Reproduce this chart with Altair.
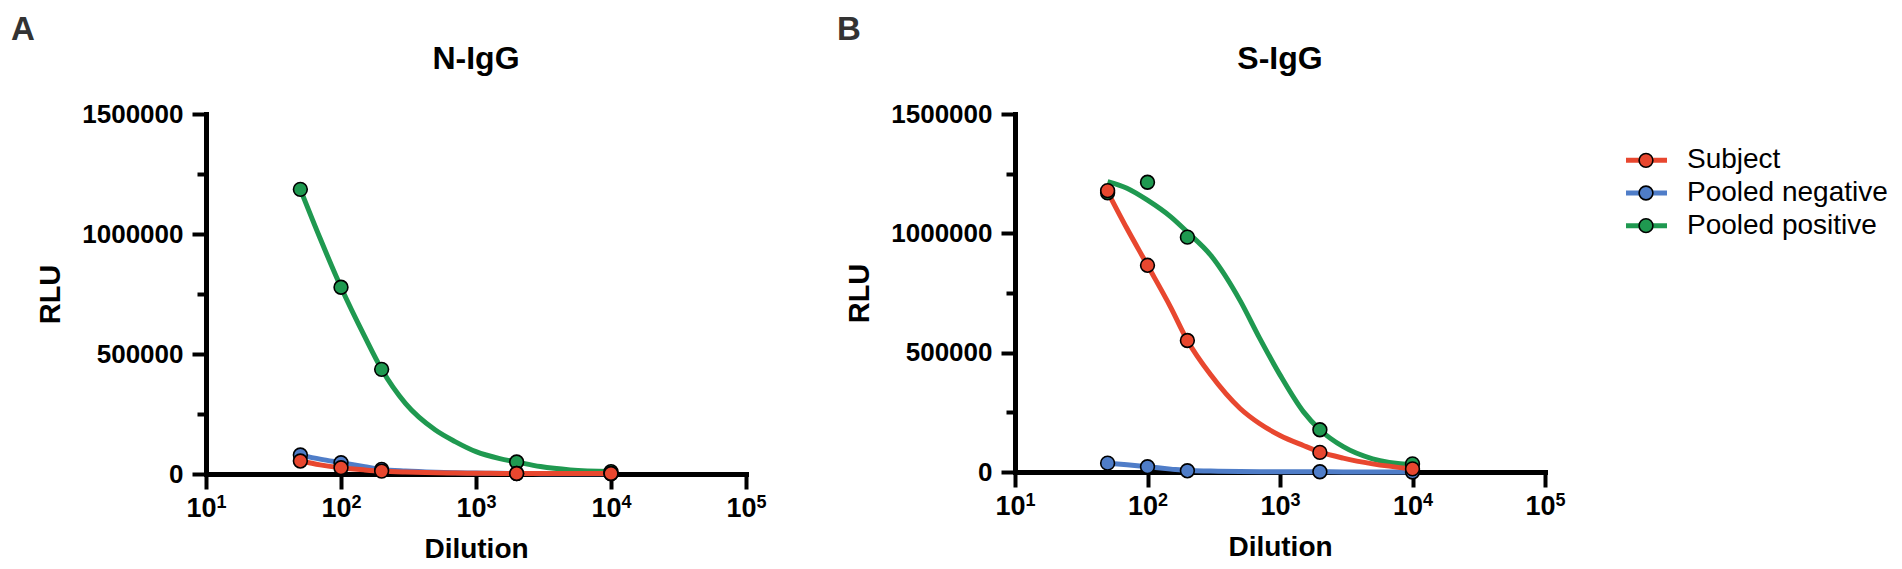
import altair as alt
import pandas as pd

FONT = "Liberation Sans"

series = ["Subject", "Pooled negative", "Pooled positive"]
colors = ["#E8472F", "#4F7DC8", "#1F9950"]
draw_order = ["Pooled positive", "Pooled negative", "Subject"]

# measured dilutions
dilutions = [50, 100, 200, 2000, 10000]

# N-IgG measured RLU
n_subject = [54000, 26000, 12000, 2000, 2000]
n_negative = [79000, 47000, 19000, 2000, 1000]
n_positive = [1186000, 778000, 436000, 50000, 10000]

# S-IgG measured RLU
s_subject = [1179000, 866000, 551000, 82000, 13000]
s_negative = [37000, 22000, 5000, 1000, 0]
s_positive = [1170000, 1214000, 984000, 177000, 34000]

# fitted curves at these dilutions
fit_dil = [50, 70, 100, 150, 200, 300, 500, 700, 1000, 1500, 2000, 3000, 5000, 10000]
n_subject_fit = [54000, 38000, 26000, 17000, 12000, 8000, 5000, 4000, 3000, 2500, 2000, 2000, 2000, 2000]
n_negative_fit = [79000, 62000, 47000, 30000, 19000, 12000, 7000, 5000, 4000, 3000, 2000, 1500, 1000, 1000]
n_positive_fit = [1186000, 982000, 778000, 572000, 436000, 294000, 183000, 135000, 93000, 64000, 50000, 31000, 17000, 10000]
s_subject_fit = [1174000, 1020000, 866000, 689000, 551000, 407000, 266000, 203000, 153000, 111000, 84000, 58000, 34000, 13000]
s_negative_fit = [37000, 30000, 22000, 12000, 6000, 4000, 2000, 1500, 1000, 1000, 1000, 500, 0, 0]
s_positive_fit = [1217000, 1189000, 1139000, 1069000, 1005000, 908000, 718000, 562000, 407000, 253000, 177000, 106000, 55000, 30000]

x_ticks = [10, 100, 1000, 10000, 100000]
x_exponents = ["1", "2", "3", "4", "5"]
y_ticks = [0, 250000, 500000, 750000, 1000000, 1250000, 1500000]


def long_df(xs, by_series, order):
    rows = []
    for s in order:
        for x, v in zip(xs, by_series[s]):
            rows.append({"series": s, "dilution": x, "rlu": v})
    return pd.DataFrame(rows)


color_scale = alt.Scale(domain=series, range=colors)
x_scale = alt.Scale(type="log", domain=[10, 100000], nice=False)

x_axis = alt.Axis(
    values=x_ticks,
    labelExpr="'10'",
    title="Dilution",
    orient="bottom",
    grid=False,
    domainColor="black", domainWidth=5, domainCap="square",
    tickColor="black", tickWidth=4, tickSize=15,
    labelFont=FONT, labelFontSize=27, labelFontWeight="bold", labelColor="black",
    labelPadding=6, labelFlush=False, labelOverlap=False, labelOffset=-5,
    titleFont=FONT, titleFontSize=28, titleFontWeight="bold", titleColor="black",
    titlePadding=14,
)

exp_axis = alt.Axis(
    values=x_ticks,
    labelExpr="['', '1', '2', '3', '4', '5'][round(log(datum.value) / LN10)]",
    title=None,
    orient="bottom",
    grid=False, domain=False, ticks=False, tickSize=0,
    labelFont=FONT, labelFontSize=18, labelFontWeight="bold", labelColor="black",
    labelPadding=19, labelFlush=False, labelOverlap=False, labelOffset=15,
)

y_axis = alt.Axis(
    values=y_ticks,
    labelExpr="datum.value % 500000 === 0 ? format(datum.value, 'd') : ''",
    title="RLU",
    grid=False,
    domainColor="black", domainWidth=5, domainCap="square",
    tickColor="black", tickWidth=4,
    tickSize={"condition": {"test": "datum.value % 500000 === 0", "value": 14}, "value": 9},
    labelFont=FONT, labelFontSize=26, labelFontWeight="bold", labelColor="black",
    labelPadding=9, labelOverlap=False,
    titleFont=FONT, titleFontSize=29, titleFontWeight="bold", titleColor="black",
    titlePadding=16,
)


def panel(title, letter, letter_x, pts, fit, w, h, legend=False):
    xenc = alt.X("dilution:Q", scale=x_scale, axis=x_axis)
    yenc = alt.Y("rlu:Q", scale=alt.Scale(domain=[0, 1500000], nice=False, zero=False), axis=y_axis)
    layers = []
    for s in draw_order:
        layers.append(
            alt.Chart(fit).transform_filter(alt.datum.series == s)
            .mark_line(strokeWidth=5, interpolate="monotone")
            .encode(x=xenc, y=yenc, color=alt.Color("series:N", scale=color_scale, legend=None))
        )
    layers.append(
        alt.Chart(pts).mark_circle(size=190, opacity=1, stroke="black", strokeWidth=1.6)
        .encode(x=xenc, y=yenc, fill=alt.Fill("series:N", scale=color_scale, legend=None))
    )
    layers.append(
        alt.Chart(pd.DataFrame({"t": [title]})).mark_text(
            font=FONT, fontSize=32, fontWeight="bold", color="black",
            align="center", baseline="alphabetic")
        .encode(text="t:N", x=alt.value(w / 2), y=alt.value(-45))
    )
    layers.append(
        alt.Chart(pd.DataFrame({"t": [letter]})).mark_text(
            font=FONT, fontSize=33, fontWeight="bold", color="#333333",
            align="left", baseline="top")
        .encode(text="t:N", x=alt.value(letter_x), y=alt.value(-100))
    )
    inner = alt.layer(*layers)
    exp_layer = alt.Chart(pd.DataFrame({"dilution": x_ticks, "e": x_exponents})).mark_point(opacity=0).encode(
        x=alt.X("dilution:Q", scale=x_scale, axis=exp_axis))
    main = alt.layer(inner, exp_layer).resolve_axis(x="independent")
    if not legend:
        return main.properties(width=w, height=h)
    leg_df = pd.DataFrame({"series": series})
    ly = alt.Y("series:N", scale=alt.Scale(domain=series, range=[30, 128], padding=0), axis=None)
    lc = alt.Color("series:N", scale=color_scale, legend=None)
    leg_rule = alt.Chart(leg_df).mark_rule(strokeWidth=5).encode(
        x=alt.value(w + 81), x2=alt.value(w + 122), y=ly, color=lc)
    leg_pt = alt.Chart(leg_df).mark_circle(size=190, opacity=1, stroke="black", strokeWidth=1.6).encode(
        x=alt.value(w + 101), y=ly, fill=alt.Fill("series:N", scale=color_scale, legend=None))
    leg_txt = alt.Chart(leg_df).mark_text(
        font=FONT, fontSize=28, color="black", align="left", baseline="middle").encode(
        x=alt.value(w + 142), y=ly, text="series:N")
    leg = alt.layer(leg_rule, leg_pt, leg_txt)
    return alt.layer(main, leg).resolve_scale(y="independent").properties(width=w, height=h)


n_pts = long_df(dilutions, {"Subject": n_subject, "Pooled negative": n_negative, "Pooled positive": n_positive}, draw_order)
n_fit = long_df(fit_dil, {"Subject": n_subject_fit, "Pooled negative": n_negative_fit, "Pooled positive": n_positive_fit}, draw_order)
s_pts = long_df(dilutions, {"Subject": s_subject, "Pooled negative": s_negative, "Pooled positive": s_positive}, draw_order)
s_fit = long_df(fit_dil, {"Subject": s_subject_fit, "Pooled negative": s_negative_fit, "Pooled positive": s_positive_fit}, draw_order)

panel_a = panel("N-IgG", "A", -195, n_pts, n_fit, 540, 360)
panel_b = panel("S-IgG", "B", -178, s_pts, s_fit, 530, 358, legend=True)

chart = (
    alt.hconcat(panel_a, panel_b, spacing=70)
    .properties(padding={"left": 3, "top": 6, "right": 0, "bottom": 0})
    .configure_view(stroke=None)
)

chart.save("out.html", embed_options={"renderer": "svg", "actions": False})
